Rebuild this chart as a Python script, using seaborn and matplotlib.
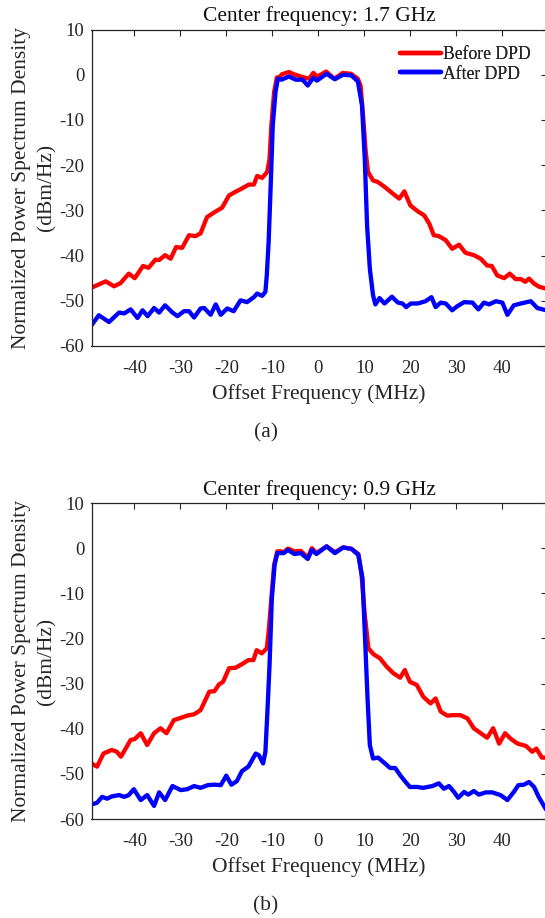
import numpy as np
import pandas as pd
import matplotlib
matplotlib.use("Agg")
import matplotlib.pyplot as plt
import seaborn as sns
from matplotlib.lines import Line2D

# ---------------- data ----------------
series_names = ["Before DPD", "After DPD"]
titles = ["Center frequency: 1.7 GHz", "Center frequency: 0.9 GHz"]
panel_labels = ["(a)", "(b)"]
x_ticks = [-40, -30, -20, -10, 0, 10, 20, 30, 40]
y_ticks = [-60, -50, -40, -30, -20, -10, 0, 10]

# Panel (a) - Before DPD
a_before_x = [-49.3, -46.2, -44.4, -43.0, -41.2, -39.9, -38.1, -36.9, -35.4, -34.6, -33.3, -32.1,
              -30.9, -29.6, -28.1, -26.7, -25.6, -24.2, -22.7, -20.9, -19.4, -18.0, -16.5, -15.1,
              -14.0, -13.3, -12.2, -11.1, -10.6, -10.2, -9.6, -9.0, -8.6, -7.9, -6.4, -5.3, -3.8,
              -2.0, -1.1, -0.2, 1.7, 3.5, 5.3, 7.1, 8.6, 9.2, 9.8, 10.3, 10.8, 11.9, 12.9, 14.4,
              16.2, 17.6, 18.7, 20.0, 21.6, 23.0, 24.1, 25.1, 26.2, 27.7, 29.1, 30.6, 32.0, 33.8,
              35.3, 36.7, 37.7, 38.9, 40.4, 41.6, 42.9, 44.0, 45.0, 45.8, 46.9, 48.0, 49.5]
a_before_y = [-47.1, -45.7, -46.8, -46.1, -44.0, -45.0, -42.3, -42.7, -40.9, -41.0, -39.9, -40.7,
              -38.1, -38.3, -35.5, -35.7, -35.1, -31.5, -30.5, -29.4, -26.7, -25.9, -25.1, -24.3,
              -24.3, -22.4, -22.8, -21.5, -18.6, -11.2, -3.8, -0.6, -0.7, 0.1, 0.6, 0.1, -0.4,
              -0.9, 0.4, -0.4, 0.7, -0.9, 0.4, 0.2, -0.9, -2.5, -10.0, -17.0, -21.5, -23.4, -23.7, -24.8,
              -26.3, -27.4, -25.8, -28.9, -30.2, -31.1, -32.9, -35.5, -35.7, -36.6, -38.5, -37.6, -39.4, -39.9,
              -40.7, -42.2, -42.3, -44.4, -45.0, -44.0, -45.2, -45.2, -45.8, -45.1, -46.2, -46.9, -47.3]

# Panel (a) - After DPD
a_after_x = [-49.3, -47.7, -45.5, -43.3, -42.2, -40.8, -39.3, -38.2, -37.1, -35.7, -34.6, -33.3,
             -31.7, -30.6, -29.2, -28.1, -27.0, -25.6, -24.8, -23.4, -22.3, -21.2, -19.8, -18.4,
             -16.9, -15.5, -14.0, -13.3, -12.2, -11.5, -11.2, -10.8, -10.4, -9.9, -9.3, -8.8, -8.0,
             -6.4, -4.9, -3.4, -2.3, -1.1, -0.3, 1.8, 3.6, 5.4, 7.2, 8.6, 9.5, 10.1, 10.6, 11.2,
             11.9, 12.4, 13.3, 14.4, 16.0, 17.3, 18.3, 19.1, 20.1, 21.6, 23.3, 24.6, 25.5, 26.6,
             27.7, 29.1, 30.2, 31.7, 33.5, 34.8, 36.0, 37.1, 38.6, 40.0, 41.1, 42.5, 44.0, 46.2,
             47.6, 49.5]
a_after_y = [-55.4, -53.2, -54.7, -52.6, -52.8, -51.9, -53.8, -52.1, -53.4, -51.6, -52.6, -51.0,
             -52.6, -53.4, -52.3, -52.3, -53.7, -51.7, -51.6, -53.1, -50.8, -53.1, -51.7, -52.3,
             -49.9, -50.3, -49.2, -48.4, -48.9, -48.0, -44.4, -37.0, -25.9, -11.2, -3.8, -0.9, -1.1,
             -0.4, -1.1, -1.1, -2.4, -0.7, -1.3, 0.2, -1.0, 0.0, -0.15, -1.5, -6.8, -18.6, -33.3, -42.9,
             -48.8, -50.8, -49.4, -50.6, -49.1, -50.4, -50.6, -51.4, -50.6, -50.6, -50.1, -49.2, -51.4, -50.4,
             -50.6, -52.1, -51.2, -50.3, -50.4, -51.9, -50.4, -50.8, -50.1, -50.4, -53.1, -51.0, -50.6, -50.1,
             -51.6, -52.1]

# Panel (b) - Before DPD
b_before_x = [-49.3, -48.1, -46.7, -44.9, -43.8, -42.9, -40.8, -39.9, -38.6, -37.2, -35.7, -34.3,
              -33.0, -31.4, -29.6, -28.5, -27.0, -25.6, -23.7, -22.6, -21.6, -20.7, -19.4, -18.0,
              -16.6, -15.2, -14.1, -13.4, -12.3, -11.2, -10.8, -10.2, -9.6, -8.9, -8.2, -7.5, -6.6,
              -5.2, -3.8, -2.3, -1.4, -0.4, 1.8, 3.6, 5.4, 7.2, 8.7, 9.4, 10.1, 10.9, 12.0, 13.4,
              14.9, 16.3, 17.8, 18.8, 19.9, 21.4, 22.8, 24.4, 25.5, 26.6, 28.0, 29.1, 30.9, 32.4,
              33.8, 35.3, 36.7, 38.0, 39.3, 40.6, 41.8, 43.3, 45.1, 46.5, 47.4, 48.6, 49.5]
b_before_y = [-47.7, -48.4, -45.5, -44.7, -45.1, -46.2, -42.5, -42.3, -41.0, -43.6, -41.0, -39.9,
              -41.0, -38.1, -37.5, -37.1, -36.8, -35.9, -31.8, -31.7, -30.2, -29.6, -26.6, -26.5,
              -25.7, -24.8, -24.8, -22.6, -23.3, -22.2, -18.5, -11.1, -3.7, -0.7, -0.7, -0.9, -0.1,
              -0.7, -0.6, -2.1, 0.0, -1.1, 0.4, -0.9, 0.15, -0.15, -1.3, -5.9, -14.8, -22.2, -23.5, -24.4,
              -26.3, -27.7, -28.7, -27.0, -29.6, -30.3, -32.9, -34.4, -33.3, -36.2, -37.1, -37.0, -37.0, -37.7,
              -39.9, -41.0, -42.0, -39.9, -43.3, -41.0, -42.2, -43.3, -43.8, -45.1, -44.4, -46.4, -46.4]

# Panel (b) - After DPD
b_after_x = [-49.3, -48.1, -47.0, -45.9, -44.9, -43.3, -42.2, -41.2, -40.1, -38.6, -37.2, -35.7,
             -34.6, -33.3, -31.7, -29.9, -28.5, -27.0, -25.6, -24.0, -22.6, -21.2, -20.0, -18.9,
             -17.7, -16.6, -15.2, -13.6, -12.9, -12.0, -11.5, -11.1, -10.6, -10.1, -9.5, -8.9, -8.2,
             -7.5, -6.6, -5.2, -3.8, -2.3, -1.4, -0.4, 1.8, 3.6, 5.4, 7.2, 8.7, 9.6, 10.1, 10.7,
             11.2, 11.9, 13.0, 14.5, 15.6, 16.7, 17.8, 18.8, 19.9, 21.4, 22.8, 24.8, 26.2, 27.3,
             28.4, 29.5, 30.4, 31.7, 32.6, 33.8, 34.9, 36.4, 37.8, 39.6, 41.1, 42.5, 43.5, 44.7,
             45.8, 46.9, 47.9, 49.5]
b_after_y = [-56.8, -56.4, -55.1, -55.5, -55.0, -54.7, -55.1, -54.7, -53.4, -55.8, -54.7, -57.1,
             -54.1, -55.8, -52.7, -53.6, -53.4, -52.7, -53.1, -52.5, -52.4, -52.5, -50.4, -52.4,
             -51.6, -49.4, -48.4, -45.5, -45.9, -47.7, -45.1, -37.0, -25.9, -11.1, -3.7, -1.1, -1.1,
             -1.1, -0.4, -1.3, -1.1, -2.4, -0.4, -1.3, 0.4, -1.1, 0.15, -0.15, -1.5, -6.7, -18.5, -33.3,
             -43.6, -46.6, -46.4, -47.7, -48.7, -48.7, -50.3, -51.6, -52.9, -52.9, -53.1, -52.7, -52.1, -53.3,
             -52.7, -54.0, -55.3, -54.0, -54.6, -53.8, -54.6, -54.1, -54.1, -54.7, -55.8, -54.0, -52.5, -52.4,
             -51.8, -52.9, -55.1, -57.9]

panels = [
    (a_before_x, a_before_y, a_after_x, a_after_y),
    (b_before_x, b_before_y, b_after_x, b_after_y),
]
colors = {"Before DPD": "#ff0000", "After DPD": "#0000ff"}

# ---------------- styling ----------------
sns.set_theme(style="white")
plt.rcParams["font.family"] = ["Liberation Serif", "DejaVu Serif"]
plt.rcParams["axes.unicode_minus"] = False

W, H = 545, 918
fig = plt.figure(figsize=(W / 100, H / 100), dpi=100)

# axes boxes in pixel coordinates: (left, top, right, bottom)
boxes = [(91.5, 29.5, 546.5, 346.0), (91.5, 503.0, 546.5, 819.0)]
label_y = [433, 906]
TXT = "#262626"

for i, (bx, by, ax_, ay_) in enumerate(panels):
    l, t, r, b = boxes[i]
    ax = fig.add_axes([l / W, 1 - b / H, (r - l) / W, (b - t) / H])
    df = pd.concat([
        pd.DataFrame({"x": bx, "y": by, "series": "Before DPD"}),
        pd.DataFrame({"x": ax_, "y": ay_, "series": "After DPD"}),
    ], ignore_index=True)
    sns.lineplot(data=df, x="x", y="y", hue="series", hue_order=series_names,
                 palette=colors, sort=False, estimator=None, linewidth=3.1,
                 legend=False, ax=ax)
    ax.set_xlim(-49.3, 49.6)
    ax.set_ylim(-60, 10)
    ax.set_xticks(x_ticks)
    ax.set_yticks(y_ticks)
    ax.tick_params(direction="in", length=4, width=0.8, top=True, right=True,
                   labelsize=13.5, colors=TXT, pad=5)
    ax.tick_params(axis="x", pad=10)
    for s in ax.spines.values():
        s.set_color(TXT)
        s.set_linewidth(0.9)
    ax.set_xlabel("Offset Frequency (MHz)", fontsize=15.5, color=TXT, labelpad=5)
    ax.set_ylabel("Normalized Power Spectrum Density\n(dBm/Hz)", fontsize=15.5,
                  color=TXT, labelpad=2, linespacing=1.45)
    ax.set_title(titles[i], fontsize=15.5, color="#111111", pad=6)
    handles = [Line2D([], [], color=colors[n], lw=3.2) for n in series_names]
    ax.legend(handles, series_names, loc="upper left",
              bbox_to_anchor=((400 - l) / (r - l), 1 - (46 - t) / (b - t)),
              frameon=False, fontsize=12.7, handlelength=2.3, handletextpad=0.15,
              borderpad=0, borderaxespad=0, labelspacing=0.15,
              labelcolor=TXT)
    fig.text(266 / W, 1 - label_y[i] / H, panel_labels[i], ha="center", va="center",
             fontsize=15.5, color=TXT)

fig.savefig("out.png", dpi=100)
